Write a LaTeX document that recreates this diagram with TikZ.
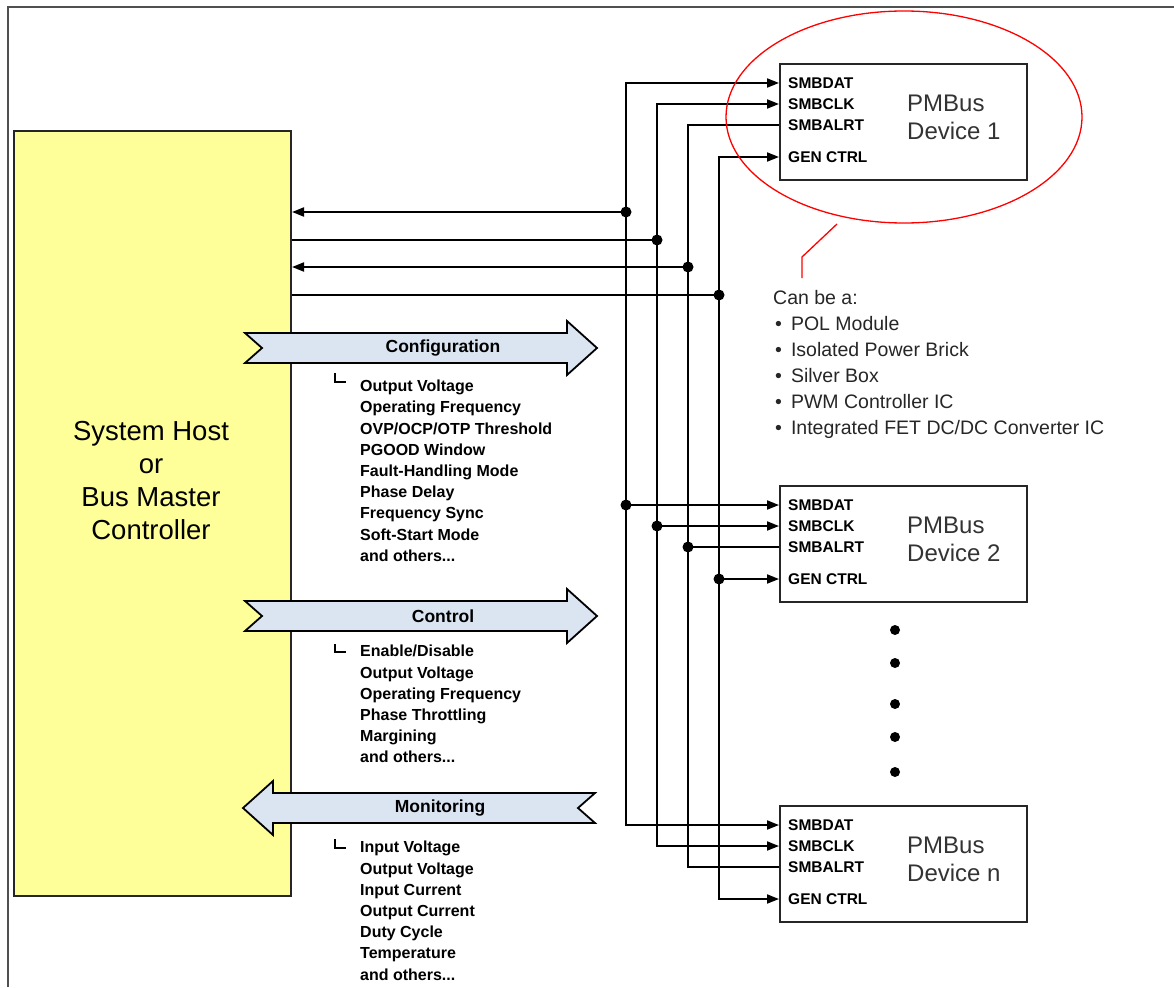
\documentclass[tikz,border=0pt]{standalone}
\usepackage{fontspec}
\setmainfont{Liberation Sans}
\usetikzlibrary{arrows.meta,calc,positioning}
\definecolor{hostyellow}{HTML}{FFFF99}
\definecolor{flowblue}{HTML}{DBE5F1}
\definecolor{framegray}{HTML}{505050}

\tikzset{
  wire/.style={line width=1.8pt},
  into/.style={-{Triangle[length=12pt,width=9pt]}},
  both/.style={{Triangle[length=12pt,width=9pt]}-{Triangle[length=12pt,width=9pt]}},
  host/.style={draw=black!85, line width=2pt, fill=hostyellow, minimum width=277pt, minimum height=765pt, inner sep=0pt},
  hosttext/.style={align=center, inner sep=0pt, font=\fontsize{27.5}{33}\selectfont},
  device/.style={draw=black!85, line width=1.8pt, minimum width=247pt, minimum height=116pt, inner sep=0pt},
  devname/.style={align=left, inner sep=0pt, text=black!80, font=\fontsize{24}{28}\selectfont},
  pin/.style={inner xsep=9pt, inner ysep=0pt, text height=11pt, text depth=0pt, font=\bfseries\fontsize{15.5}{18}\selectfont},
  flow/.style={draw=black, line width=1.8pt, fill=flowblue, line join=miter},
  flowlabel/.style={inner sep=0pt, font=\bfseries\fontsize{17.5}{20}\selectfont},
  items/.style={align=left, inner sep=0pt, font=\bfseries\fontsize{16}{21.2}\selectfont},
  note/.style={align=left, inner sep=0pt, text=black!85, font=\fontsize{19.5}{26}\selectfont},
}

\begin{document}
\begin{tikzpicture}[x=1pt, y=-1pt]
  \useasboundingbox (0,0) rectangle (1174,987);
  \draw[framegray, line width=2pt] (8,987) -- (8,7) -- (1174,7);

  % host
  \node[host, anchor=north west] (host) at (13,130) {};
  \node[hosttext] (hostlabel) at (151,481) {System Host\\or\\Bus Master\\Controller};

  % devices and their pins
  \foreach \d/\yt in {1/63, 2/485, n/805} {
    \node[device, anchor=north west] (dev\d) at (779,\yt) {};
    \node[devname, anchor=west] (name\d) at ($(dev\d.north west)+(128,54)$) {PMBus\\Device \d};
    \foreach \p/\dy/\txt in {dat/20/SMBDAT, clk/41/SMBCLK, alrt/62/SMBALRT, gen/94/GEN CTRL}
      \node[pin, anchor=west] (dev\d-\p) at ($(dev\d.north west)+(0,\dy)$) {\txt};
  }

  % bus lines
  \foreach \p/\x/\hy/\s/\h in {dat/626/212/both/into, clk/657/240/both/wire, alrt/688/267/wire/into, gen/719/295/both/wire} {
    \coordinate (bus-\p) at (\x,0);
    \coordinate (j-\p) at (\x,\hy);
    \draw[wire,\s] (dev1-\p.west) -| (bus-\p |- devn-\p.west) -- (devn-\p.west);
    \draw[wire,\h] (j-\p) -- (j-\p -| host.east);
    \fill (j-\p) circle (5.5pt);
  }
  \foreach \p/\s in {dat/into, clk/into, alrt/wire, gen/into} {
    \draw[wire,\s] (bus-\p |- dev2-\p.west) -- (dev2-\p.west);
    \fill (bus-\p |- dev2-\p.west) circle (5.5pt);
  }

  % more devices
  \foreach \y in {630,663,704,737,772}
    \fill (895,\y) circle (5pt);

  % big arrows
  \foreach \y/\n/\txt in {348/conf/Configuration, 616/ctrl/Control} {
    \draw[flow] (245,\y-15) -- (567,\y-15) -- (567,\y-27) -- (597,\y) -- (567,\y+27)
      -- (567,\y+15) -- (245,\y+15) -- (262,\y) -- cycle;
    \node[flowlabel] (\n) at (443,\y) {\txt};
  }
  \draw[flow] (243,808) -- (273,781) -- (273,793) -- (595,793) -- (578,808)
    -- (595,823) -- (273,823) -- (273,835) -- cycle;
  \node[flowlabel] (mon) at (440,808) {Monitoring};

  % lists
  \draw[line width=1.2pt] (335,373) |- (346,382);
  \node[items, anchor=north west] (conflist) at (360,380) {Output Voltage\\Operating Frequency\\OVP/OCP/OTP Threshold\\PGOOD Window\\Fault-Handling Mode\\Phase Delay\\Frequency Sync\\Soft-Start Mode\\and others...};
  \draw[line width=1.2pt] (335,644) |- (346,652);
  \node[items, anchor=north west] (ctrllist) at (360,645) {Enable/Disable\\Output Voltage\\Operating Frequency\\Phase Throttling\\Margining\\and others...};
  \draw[line width=1.2pt] (335,839) |- (346,848);
  \node[items, anchor=north west] (monlist) at (360,841) {Input Voltage\\Output Voltage\\Input Current\\Output Current\\Duty Cycle\\Temperature\\and others...};

  % callout
  \draw[red, line width=1.3pt] (904,117) ellipse [x radius=178pt, y radius=106pt];
  \coordinate (tip) at (802,278);
  \draw[red, line width=1.3pt] (837,224) -- (802,257) -- (tip);
  \node[note, anchor=north west] (canbe) at (773,290) {Can be a:\\
    \hspace*{2pt}\textbullet\hspace{9pt}POL Module\\
    \hspace*{2pt}\textbullet\hspace{9pt}Isolated Power Brick\\
    \hspace*{2pt}\textbullet\hspace{9pt}Silver Box\\
    \hspace*{2pt}\textbullet\hspace{9pt}PWM Controller IC\\
    \hspace*{2pt}\textbullet\hspace{9pt}Integrated FET DC/DC Converter IC};
\end{tikzpicture}
\end{document}
